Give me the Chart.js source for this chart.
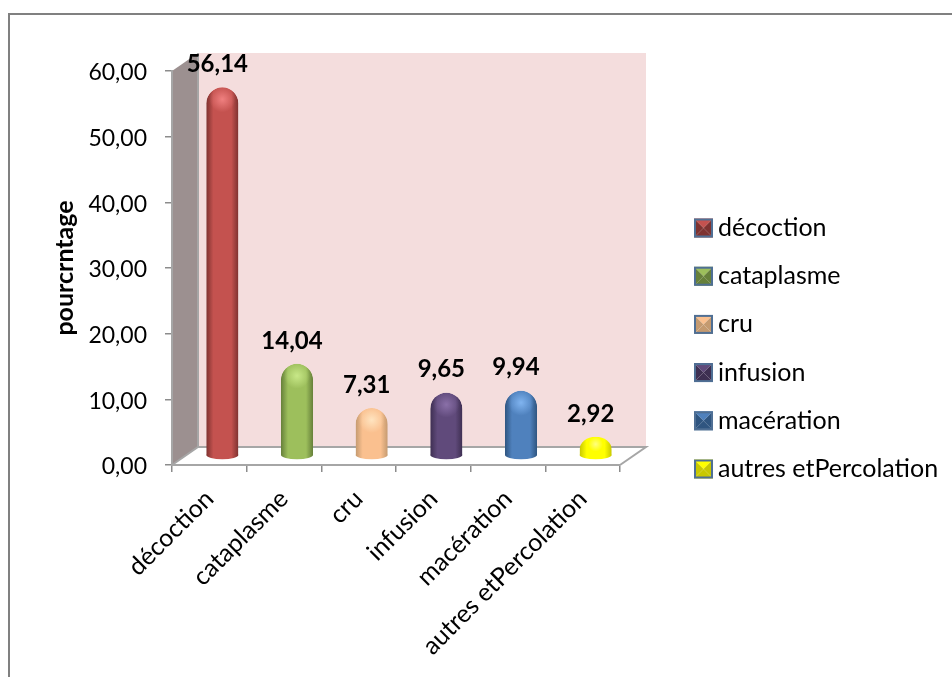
<!DOCTYPE html>
<html>
<head>
<meta charset="utf-8">
<style>
  body { margin: 0; background: #fff; }
  canvas { display: block; }
</style>
<script src="https://cdn.jsdelivr.net/npm/chart.js@4"></script>
</head>
<body>
<canvas id="myChart" width="952" height="677"></canvas>
<script>
const categories = ['décoction', 'cataplasme', 'cru', 'infusion', 'macération', 'autres etPercolation'];
const values = [56.14, 14.04, 7.31, 9.65, 9.94, 2.92];
const valueLabels = ['56,14', '14,04', '7,31', '9,65', '9,94', '2,92'];
const barColors = ['#C4524F', '#9DBF5C', '#FAC08F', '#604A7B', '#4F81BD', '#FFFF00'];
const barEdges = ['#7E3230', '#66803A', '#C49A70', '#3E2F52', '#2F5580', '#C8C800'];
const barGlow = ['#F08080', '#C8E888', '#FFE4C0', '#8A70A8', '#80B4F0', '#FFFF80'];

const FONT = 'Lato, Carlito, Calibri, sans-serif';
// depth of the fake 3D box
const DX = 26, DY = 18;

function fmt(v) { return v.toFixed(2).replace('.', ','); }

// elliptical dome on every bar, also the short ones where borderRadius gets clamped
const drawBar = Chart.BarElement.prototype.draw;
Chart.BarElement.prototype.draw = function (c) {
  const w = this.width / 2, ry = Math.min(16, (this.base - this.y) * 0.7);
  c.save();
  c.beginPath();
  c.ellipse(this.x, this.y + ry, w, ry, 0, Math.PI, 0);
  c.lineTo(this.x + w, this.base);
  c.lineTo(this.x - w, this.base);
  c.closePath();
  c.clip();
  drawBar.call(this, c);
  c.restore();
};

// walls and floor behind the bars
const box3d = {
  id: 'box3d',
  beforeDraw(chart) {
    const c = chart.ctx, x = chart.scales.x, y = chart.scales.y;
    const l = x.left, r = x.right, t = y.getPixelForValue(60), b = y.getPixelForValue(0);
    c.save();
    c.fillStyle = '#fff';
    c.fillRect(0, 0, chart.width, chart.height);
    // only the top and left edges of the frame are on the page
    c.strokeStyle = '#808080';
    c.lineWidth = 2;
    c.beginPath();
    c.moveTo(9, chart.height); c.lineTo(9, 14); c.lineTo(chart.width, 14);
    c.stroke();

    c.fillStyle = '#F4DDDD';
    c.fillRect(l + DX, t - DY, r - l, b - t);

    c.fillStyle = '#9C9090';
    c.beginPath();
    c.moveTo(l, t); c.lineTo(l + DX, t - DY); c.lineTo(l + DX, b - DY); c.lineTo(l, b);
    c.closePath(); c.fill();
    c.strokeStyle = '#A6A6A6';
    c.lineWidth = 2;
    c.beginPath(); c.moveTo(l + DX, t - DY); c.lineTo(l + DX, b - DY); c.stroke();

    c.fillStyle = '#fff';
    c.beginPath();
    c.moveTo(l, b); c.lineTo(l + DX, b - DY); c.lineTo(r + DX, b - DY); c.lineTo(r, b);
    c.closePath(); c.fill();
    c.strokeStyle = '#A6A6A6';
    c.beginPath();
    c.moveTo(l, b); c.lineTo(l + DX, b - DY); c.lineTo(r + DX, b - DY); c.lineTo(r, b);
    c.stroke();
    c.restore();
  },
  // bars sit in the middle of the floor depth
  beforeDatasetsDraw(chart) {
    chart.ctx.save();
    chart.ctx.translate(DX / 2, -DY / 2);
  },
  afterDatasetsDraw(chart) {
    const c = chart.ctx;
    const bars = chart.getDatasetMeta(0).data;
    bars.forEach((bar, i) => {
      const w = bar.width / 2, h = bar.base - bar.y;
      // rounded foot of the cylinder
      const g = c.createLinearGradient(bar.x - w, 0, bar.x + w, 0);
      g.addColorStop(0, barEdges[i]);
      g.addColorStop(0.22, barColors[i]);
      g.addColorStop(0.78, barColors[i]);
      g.addColorStop(1, barEdges[i]);
      c.fillStyle = g;
      c.beginPath();
      c.ellipse(bar.x, bar.base - 0.5, w, 4.5, 0, 0, Math.PI);
      c.fill();
      // highlight on the dome
      const hy = bar.y + Math.min(12, h * 0.4);
      const hr = Math.min(13, h * 0.4);
      const glow = c.createRadialGradient(bar.x, hy, 0, bar.x, hy, hr);
      glow.addColorStop(0, barGlow[i]);
      glow.addColorStop(1, barGlow[i] + '00');
      c.fillStyle = glow;
      c.beginPath();
      c.arc(bar.x, hy, hr, 0, Math.PI * 2);
      c.fill();
    });
    c.restore();

    // value labels
    c.save();
    c.fillStyle = '#000';
    c.font = 'bold 24px ' + FONT;
    c.textAlign = 'center';
    c.textBaseline = 'middle';
    bars.forEach((bar, i) => {
      c.fillText(valueLabels[i], bar.x + DX / 2 - 5, bar.y - DY / 2 - 23);
    });
    c.restore();
  }
};

// legend column on the right, one row per category
const legendRows = {
  id: 'legendRows',
  afterDraw(chart) {
    const c = chart.ctx;
    const x = 694, s = 19, top = 228, step = 48.2;
    c.save();
    c.font = '25px ' + FONT;
    c.textBaseline = 'middle';
    categories.forEach((name, i) => {
      const y = top + i * step - s / 2;
      const mx = x + s / 2, my = y + s / 2;
      const tri = (ax, ay, bx, by, col) => {
        c.fillStyle = col;
        c.beginPath(); c.moveTo(ax, ay); c.lineTo(bx, by); c.lineTo(mx, my); c.closePath(); c.fill();
      };
      tri(x, y, x + s, y, barColors[i]);
      tri(x, y, x, y + s, barEdges[i]);
      tri(x + s, y, x + s, y + s, barEdges[i]);
      tri(x, y + s, x + s, y + s, barEdges[i]);
      c.strokeStyle = '#4F6F94';
      c.lineWidth = 2;
      c.strokeRect(x + 1, y + 1, s - 2, s - 2);
      c.fillStyle = '#000';
      c.fillText(name, x + 24, top + i * step);
    });
    c.restore();
  }
};

const data = {
  labels: categories,
  datasets: [{
    data: values,
    clip: false,
    barPercentage: 0.43,
    categoryPercentage: 1,
    borderRadius: { topLeft: 16, topRight: 16 },
    borderSkipped: false,
    backgroundColor(ctx) {
      const chart = ctx.chart;
      const i = ctx.dataIndex;
      if (i === undefined || !chart.scales.x) return barColors[0];
      const cx = chart.scales.x.getPixelForValue(i);
      // scale has no size yet on the very first pass
      if (!Number.isFinite(cx)) return barColors[i];
      const g = chart.ctx.createLinearGradient(cx - 16, 0, cx + 16, 0);
      g.addColorStop(0, barEdges[i]);
      g.addColorStop(0.22, barColors[i]);
      g.addColorStop(0.78, barColors[i]);
      g.addColorStop(1, barEdges[i]);
      return g;
    }
  }]
};

const config = {
  type: 'bar',
  data,
  plugins: [box3d, legendRows],
  options: {
    responsive: false,
    animation: false,
    layout: { padding: { left: 50, top: 71, right: 332, bottom: 0 } },
    plugins: { legend: { display: false }, tooltip: { enabled: false } },
    scales: {
      x: {
        afterFit(s) { s.height = 212; },
        grid: { drawOnChartArea: false, color: '#8C8C8C', tickLength: 7, lineWidth: 1.5 },
        border: { color: '#A6A6A6', width: 2 },
        ticks: {
          color: '#000',
          font: { family: FONT, size: 25 },
          minRotation: 45,
          maxRotation: 45,
          padding: 12
        }
      },
      y: {
        min: 0,
        max: 60,
        afterFit(s) { s.width = 122; },
        grid: { drawOnChartArea: false, color: '#8C8C8C', tickLength: 7, lineWidth: 1.5 },
        border: { color: '#A6A6A6', width: 2 },
        ticks: {
          stepSize: 10,
          color: '#000',
          font: { family: FONT, size: 23 },
          padding: 18,
          labelOffset: 2,
          callback: v => fmt(v)
        },
        title: {
          display: true,
          text: 'pourcrntage',
          color: '#000',
          font: { family: FONT, size: 25, weight: 'bold' },
          padding: 0
        }
      }
    }
  }
};

var myChart = new Chart(document.getElementById('myChart').getContext('2d'), config);
</script>
</body>
</html>
